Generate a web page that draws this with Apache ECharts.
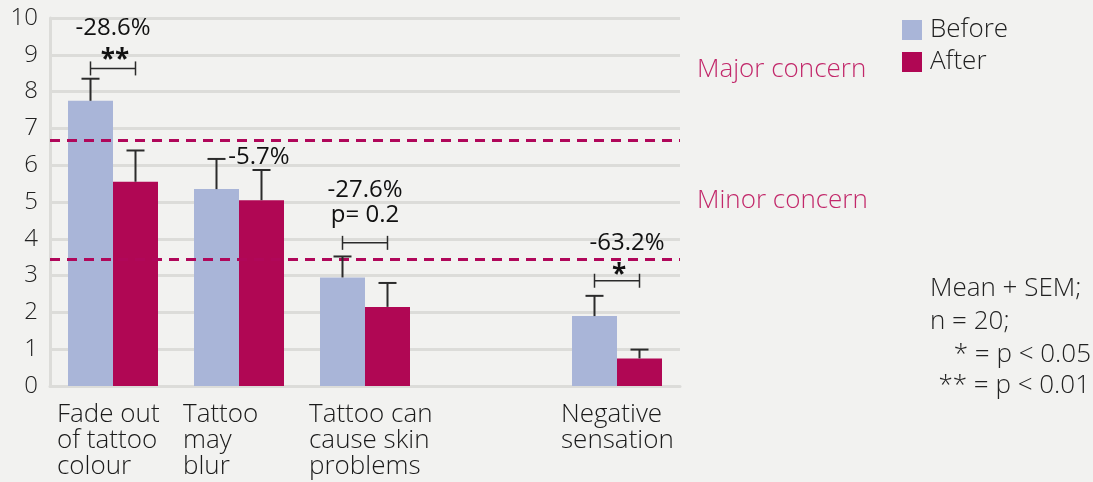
<!DOCTYPE html>
<html>
<head>
<meta charset="utf-8">
<script src="https://cdn.jsdelivr.net/npm/echarts@6/dist/echarts.min.js"></script>
<style>
  html, body { margin: 0; padding: 0; background: #f2f2f0; }
  #chart { width: 1093px; height: 482px; }
</style>
</head>
<body>
<div id="chart"></div>
<script>
// categories (4th slot is an empty gap in the original)
const categories = ['Fade out\nof tattoo\ncolour', 'Tattoo\nmay\nblur', 'Tattoo can\ncause skin\nproblems', '', 'Negative\nsensation']
const before = [7.75, 5.35, 2.95, null, 1.9]
const after = [5.55, 5.05, 2.15, null, 0.75]
const beforeSem = [0.6, 0.82, 0.57, null, 0.55]
const afterSem = [0.85, 0.82, 0.65, null, 0.24]

// concern thresholds
const majorConcern = 6.67
const minorConcern = 3.45

// % change labels
const changeCats = [0, 1, 2, 4]
const changeText = ['-28.6%', '-5.7%', '-27.6%', '-63.2%']
const changeY = [9.73, 6.23, 5.31, 3.88]

// significance brackets
const sigCats = [0, 2, 4]
const sigY = [8.63, 3.89, 2.86]
const sigText = ['**', 'p= 0.2', '*']
const sigTextY = [8.95, 4.65, 3.1]

const BLUE = '#a9b5d8'
const RED = '#b00754'
const FONT = '"Open Sans", "Noto Sans", sans-serif'
const BAR_W = 45

const chart = echarts.init(document.getElementById('chart'))

function errorBarSeries(values, sems, side) {
  const data = []
  values.forEach((v, i) => {
    if (v != null) data.push([i, v, v + sems[i]])
  })
  return {
    type: 'custom',
    z: 5,
    silent: true,
    data,
    renderItem: (params, api) => {
      const base = api.coord([api.value(0), api.value(1)])
      const top = api.coord([api.value(0), api.value(2)])
      const x = base[0] + side * BAR_W / 2
      const style = { stroke: '#2b2b2b', lineWidth: 2 }
      return {
        type: 'group',
        children: [
          { type: 'line', shape: { x1: x, y1: base[1], x2: x, y2: top[1] }, style },
          { type: 'line', shape: { x1: x - 9, y1: top[1], x2: x + 9, y2: top[1] }, style }
        ]
      }
    }
  }
}

const textStyle = { fontSize: 24, fontFamily: FONT, fontWeight: 400, fill: '#111', align: 'center', verticalAlign: 'middle' }
const noteStyle = { fontSize: 26, fontFamily: FONT, fontWeight: 300, fill: '#222', verticalAlign: 'middle' }

const option = {
  backgroundColor: '#f2f2f0',
  animation: false,
  textStyle: { fontFamily: FONT },
  grid: { left: 50, right: 413, top: 18, bottom: 96 },
  legend: {
    orient: 'vertical',
    left: 902,
    top: 17,
    padding: 0,
    itemWidth: 20,
    itemHeight: 20,
    itemGap: 6,
    icon: 'rect',
    textStyle: { fontSize: 26, color: '#222', lineHeight: 20, fontWeight: 300, padding: [0, 0, 0, 3] },
    data: ['Before', 'After']
  },
  xAxis: {
    type: 'category',
    data: categories,
    axisLine: { lineStyle: { color: '#dcdcd9', width: 3 } },
    axisTick: { inside: true, length: 9, interval: (i) => i !== 4, lineStyle: { color: '#dcdcd9', width: 3 } },
    axisLabel: {
      interval: 0,
      margin: 16,
      align: 'center',
      formatter: (v) => v.split('\n').map(s => '{a|' + s + '}').join('\n'),
      rich: { a: { width: 112, align: 'left', fontSize: 26, lineHeight: 26, color: '#1a1a1a', fontWeight: 300, fontFamily: FONT } }
    }
  },
  yAxis: {
    type: 'value',
    min: 0,
    max: 10,
    interval: 1,
    axisLine: { show: true, lineStyle: { color: '#dcdcd9', width: 3 } },
    axisTick: { show: false },
    splitLine: { lineStyle: { color: '#dcdcd9', width: 3 } },
    axisLabel: { fontSize: 24, color: '#222', margin: 12, fontWeight: 300 }
  },
  graphic: [
    { type: 'text', left: 697, top: 57, style: { text: 'Major concern', fontSize: 26, fontFamily: FONT, fontWeight: 300, fill: '#c2286a' } },
    { type: 'text', left: 697, top: 188, style: { text: 'Minor concern', fontSize: 26, fontFamily: FONT, fontWeight: 300, fill: '#c2286a' } },
    { type: 'text', x: 930, y: 289, style: Object.assign({}, noteStyle, { text: 'Mean + SEM;', align: 'left' }) },
    { type: 'text', x: 930, y: 322, style: Object.assign({}, noteStyle, { text: 'n = 20;', align: 'left' }) },
    { type: 'text', x: 1091, y: 355, style: Object.assign({}, noteStyle, { text: '* = p < 0.05', align: 'right' }) },
    { type: 'text', x: 1090, y: 386, style: Object.assign({}, noteStyle, { text: '** = p < 0.01', align: 'right' }) }
  ],
  series: [
    {
      name: 'Before',
      type: 'bar',
      data: before,
      barWidth: BAR_W,
      barGap: '0%',
      itemStyle: { color: BLUE },
      markLine: {
        silent: true,
        symbol: 'none',
        label: { show: false },
        lineStyle: { color: '#b0075a', width: 3, type: [10, 7] },
        data: [{ yAxis: majorConcern }, { yAxis: minorConcern }]
      }
    },
    {
      name: 'After',
      type: 'bar',
      data: after,
      barWidth: BAR_W,
      itemStyle: { color: RED }
    },
    errorBarSeries(before, beforeSem, -1),
    errorBarSeries(after, afterSem, 1),
    {
      // significance brackets between the two bars
      type: 'custom',
      z: 6,
      silent: true,
      data: sigCats.map((c, i) => [c, sigY[i], sigTextY[i], i]),
      renderItem: (params, api) => {
        const p = api.coord([api.value(0), api.value(1)])
        const t = api.coord([api.value(0), api.value(2)])
        const x1 = p[0] - BAR_W / 2
        const x2 = p[0] + BAR_W / 2
        const style = { stroke: '#2b2b2b', lineWidth: 1.5 }
        const label = sigText[api.value(3)]
        const bold = label.indexOf('*') >= 0
        return {
          type: 'group',
          children: [
            { type: 'line', shape: { x1, y1: p[1], x2, y2: p[1] }, style },
            { type: 'line', shape: { x1, y1: p[1] - 7, x2: x1, y2: p[1] + 7 }, style },
            { type: 'line', shape: { x1: x2, y1: p[1] - 7, x2, y2: p[1] + 7 }, style },
            { type: 'text', x: p[0] + (bold ? 2 : 0), y: t[1] + (bold ? 4 : 0), style: Object.assign({}, textStyle, { text: label, fontWeight: bold ? 'bold' : 400, fontSize: bold ? 26 : 24 }) }
          ]
        }
      }
    },
    {
      // percent change labels
      type: 'custom',
      z: 6,
      silent: true,
      data: changeCats.map((c, i) => [c, changeY[i], i]),
      renderItem: (params, api) => {
        const p = api.coord([api.value(0), api.value(1)])
        const i = api.value(2)
        // the lone "-5.7%" sits right of the blue bar's error bar
        const dx = sigCats.indexOf(changeCats[i]) < 0 ? 20 : (changeCats[i] === 4 ? 10 : 0)
        return { type: 'text', x: p[0] + dx, y: p[1], style: Object.assign({}, textStyle, { text: changeText[i] }) }
      }
    }
  ]
}

chart.setOption(option)
</script>
</body>
</html>
